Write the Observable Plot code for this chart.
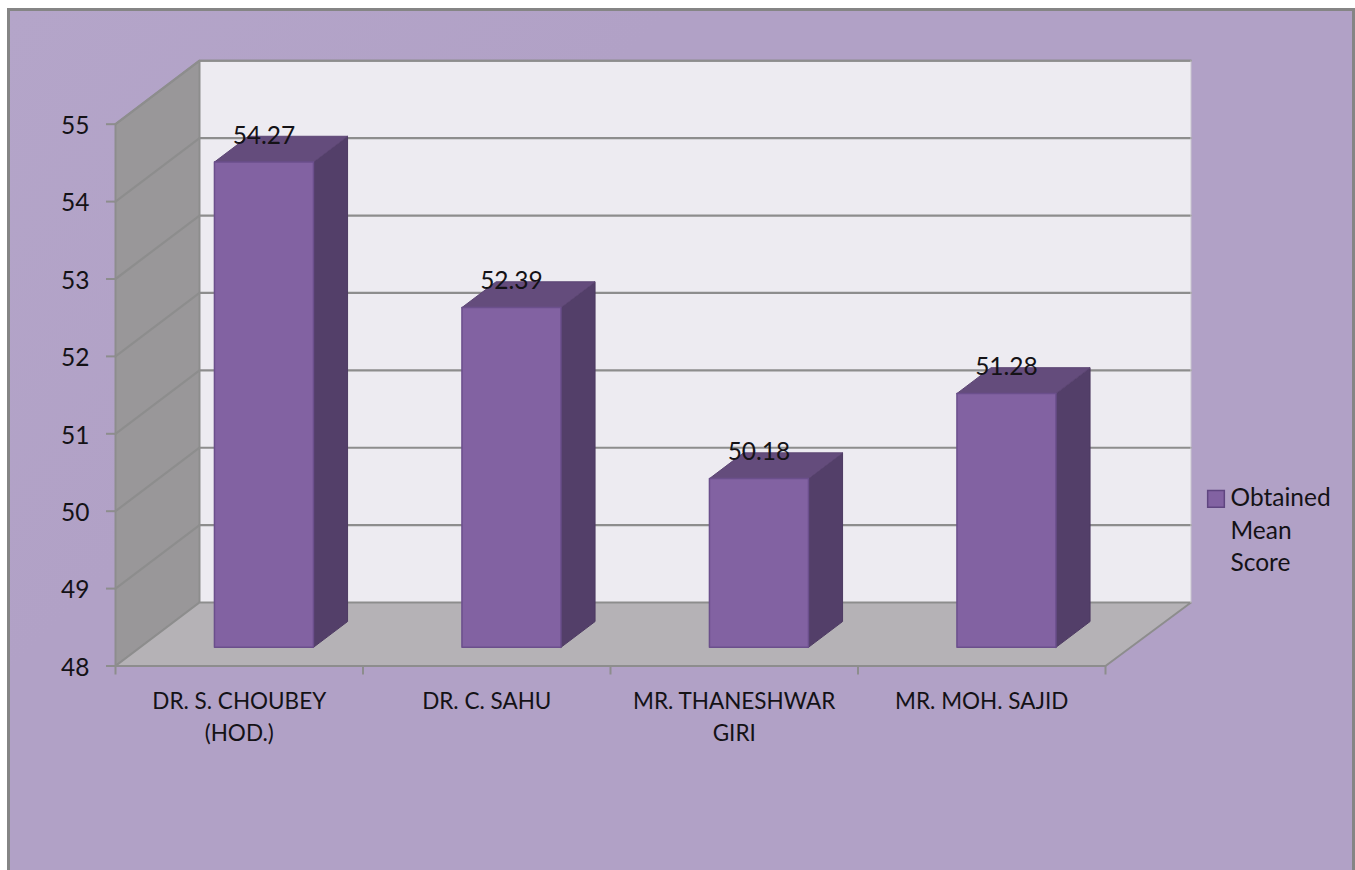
<!DOCTYPE html>
<html><head><meta charset="utf-8">
<script src="https://cdn.jsdelivr.net/npm/d3@7"></script>
<script src="https://cdn.jsdelivr.net/npm/@observablehq/plot@0.6"></script>
<style>
html,body{margin:0;padding:0;background:#fff;overflow:hidden}
#frame{position:absolute;left:7px;top:8px;width:1342px;height:870px;border:3px solid #858585;
background:linear-gradient(135deg,#b4a5c9 0%,#b1a1c6 30%,#b1a1c6 100%)}
#chart{position:absolute;left:0;top:0}
svg{background:transparent!important;display:block}
</style></head>
<body><div id="frame"></div><div id="chart"></div>
<script>
const categories = ["DR. S. CHOUBEY\n(HOD.)","DR. C. SAHU","MR. THANESHWAR\nGIRI","MR. MOH. SAJID"];
const scores = [54.27,52.39,50.18,51.28];
const valueTicks = [48,49,50,51,52,53,54,55];
const seriesName = "Obtained\nMean\nScore";
const font = "Lato, Carlito, Calibri, sans-serif";

// oblique projection: wall depth in data units
const depthX = 0.3394, depthY = 0.82;
const floorV = 48, topV = 55, n = categories.length, nBack = n + 0.006;
const at = (x,v,d=0) => ({x:x+d*depthX, y:v+d*depthY});
const poly = (id,pts) => pts.map(p=>({id,...p}));

const backWall = poly("b",[at(0,floorV,1),at(nBack,floorV,1),at(nBack,topV,1),at(0,topV,1)]);
const floorPl  = poly("f",[at(0,floorV),at(n,floorV),at(nBack,floorV,1),at(0,floorV,1),at(0,floorV)]);
const sideWall = poly("s",[at(0,floorV),at(0,topV),at(0,topV,1),at(0,floorV,1),at(0,floorV)]);
const grid = valueTicks.slice(1).flatMap(v=>poly("g"+v,[at(0,v),at(0,v,1),at(nBack,v,1)]));

const barW = 0.4, d0 = 0.294, d1 = 0.70;
const front=[],side=[],top_=[];
scores.forEach((v,i)=>{
  const a=i+0.5-barW/2,b=i+0.5+barW/2;
  front.push(...poly(i,[at(a,floorV,d0),at(b,floorV,d0),at(b,v,d0),at(a,v,d0),at(a,floorV,d0)]));
  side.push(...poly(i,[at(b,floorV,d0),at(b,floorV,d1),at(b,v,d1),at(b,v,d0),at(b,floorV,d0)]));
  top_.push(...poly(i,[at(a,v,d0),at(b,v,d0),at(b,v,d1),at(a,v,d1),at(a,v,d0)]));
});
const shape=(data,fill,stroke,sw=1.5)=>Plot.line(data,{x:"x",y:"y",z:"id",fill,stroke,strokeWidth:sw,strokeLinejoin:"round"});
const gridC="#8d8d8d", fs=22.5, fsNum=24.5, ink="#141216";

const plot = Plot.plot({
  width:1355,height:870,
  marginLeft:115,marginRight:250,marginTop:46.3,marginBottom:204.5,
  x:{type:"linear",domain:[0,n]},
  y:{domain:[48,56]},
  style:{background:"transparent",fontFamily:font},
  marks:[
    shape(backWall,"#edebf1","none"),
    shape(sideWall,"#999799",gridC,2),
    shape(floorPl,"#b5b2b6",gridC,2),
    Plot.line(grid,{x:"x",y:"y",z:"id",stroke:gridC,strokeWidth:2.2}),
    Plot.line(poly("t",[at(0,topV,1),at(nBack,topV,1)]),{x:"x",y:"y",z:"id",stroke:gridC,strokeWidth:2.2}),
    Plot.line(poly("e",[at(nBack,floorV,1),at(nBack,topV,1)]),{x:"x",y:"y",z:"id",stroke:"#c9c6cf",strokeWidth:1}),
    Plot.axisY({ticks:valueTicks,tickSize:9,tickFormat:()=>"",stroke:gridC,strokeWidth:2,label:null}),
    Plot.text(valueTicks,{x:()=>0,y:d=>d,text:d=>String(d),dx:-26,dy:2,textAnchor:"end",fontSize:fsNum,fill:ink}),
    Plot.axisX({ticks:d3.range(n+1),tickSize:9,tickFormat:()=>"",stroke:gridC,strokeWidth:2,label:null}),
    shape(side,"#533f69","#4d3a62",1),
    shape(top_,"#644c7c","#5d4674",1),
    shape(front,"#8262a2","#6b4f8c",1.5),
    Plot.text(categories,{x:(d,i)=>i+0.5,y:()=>48,text:d=>d,dy:20,lineAnchor:"top",lineHeight:1.42,fontSize:fs,fill:ink}),
    Plot.text(scores,{x:(d,i)=>i+0.5+d0*depthX,y:d=>d,text:d=>d.toFixed(2),dy:-45,fontSize:fsNum,fill:ink}),
    Plot.dot([0],{frameAnchor:"right",dx:110.5,dy:142.5,symbol:"square",r:9.4,fill:"#8262a2",stroke:"#5f4580",strokeWidth:1.5}),
    Plot.text([seriesName],{frameAnchor:"right",dx:125,dy:172,text:d=>d,textAnchor:"start",lineAnchor:"middle",lineHeight:1.33,fontSize:fsNum,fill:ink})
  ]
});
document.getElementById("chart").append(plot);
</script></body></html>
